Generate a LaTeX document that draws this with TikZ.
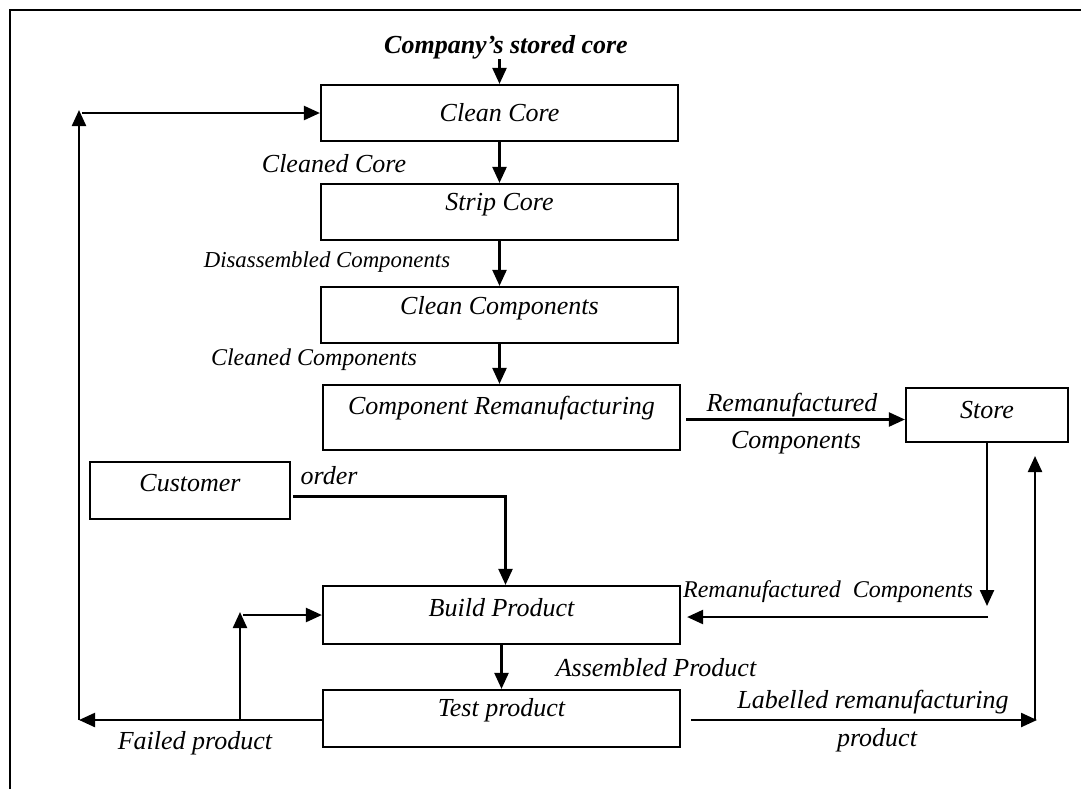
\documentclass[tikz,border=0pt]{standalone}
\usepackage{fontspec}
\setmainfont{Liberation Serif}
\usetikzlibrary{arrows.meta}
\begin{document}
\begin{tikzpicture}[x=0.5pt,y=-0.5pt,
  box/.style={draw,line width=1.1pt,inner sep=0pt},
  txt/.style={font=\itshape\fontsize{13}{15}\selectfont,inner sep=0pt},
  small/.style={font=\itshape\fontsize{12}{14}\selectfont},
  tiny/.style={font=\itshape\fontsize{11.4}{13}\selectfont},
  conn/.style={line width=1.15pt},
  arr/.style={conn,-{Triangle[length=8pt,width=7pt]}},
]
\useasboundingbox (0,0) rectangle (1081,789);

% open frame (top and left edges)
\draw[conn] (10,789) -- (10,10) -- (1081,10);

% process boxes
\node[box,minimum width=178.5pt,minimum height=28pt]   (cc)    at (499.5,113)   {};
\node[box,minimum width=178.5pt,minimum height=28pt]   (sc)    at (499.5,212)   {};
\node[box,minimum width=178.5pt,minimum height=28pt]   (ccomp) at (499.5,315)   {};
\node[box,minimum width=178.5pt,minimum height=32.5pt] (crm)   at (501.5,417.5) {};
\node[box,minimum width=81pt,minimum height=27pt]      (store) at (987,415)     {};
\node[box,minimum width=100pt,minimum height=28.5pt]   (cust)  at (190,490.5)   {};
\node[box,minimum width=178.5pt,minimum height=29pt]   (bp)    at (501.5,615)   {};
\node[box,minimum width=178.5pt,minimum height=28.5pt] (tp)    at (501.5,718.5) {};

% box captions
\node[txt] (cc-t)    at (499.5,113) {Clean Core};
\node[txt] (sc-t)    at (499.5,205) {Strip Core};
\node[txt] (ccomp-t) at (499.5,308) {Clean Components};
\node[txt] (crm-t)   at (501.5,408) {Component Remanufacturing};
\node[txt] (store-t) at (987,410)   {Store};
\node[txt] (cust-t)  at (190,483)   {Customer};
\node[txt] (bp-t)    at (501.5,608) {Build Product};
\node[txt] (tp-t)    at (501.5,710) {Test product};

% flow labels
\node[txt,font=\bfseries\itshape\fontsize{13}{15}\selectfont] (src) at (506,47) {Company’s stored core};
\node[txt]       (l-cc)    at (334,164) {Cleaned Core};
\node[txt,tiny]  (l-sc)    at (327,262) {Disassembled Components};
\node[txt,small] (l-ccomp) at (314,360) {Cleaned Components};
\node[txt]       (l-rm1)   at (792,405) {Remanufactured};
\node[txt]       (l-rm2)   at (796,443) {Components};
\node[txt]       (l-order) at (329,476) {order};
\node[txt,small] (l-rc)    at (828,592) {Remanufactured\ \ Components};
\node[txt]       (l-ap)    at (656,668) {Assembled Product};
\node[txt]       (l-fp)    at (195,743) {Failed product};
\node[txt]       (l-lr1)   at (873,702) {Labelled remanufacturing};
\node[txt]       (l-lr2)   at (877,740) {product};

% main column
\draw[arr] (src.south -| cc.north) -- (cc.north);
\draw[arr] (cc) -- (sc);
\draw[arr] (sc) -- (ccomp);
\draw[arr] (ccomp.south) -- (ccomp.south |- crm.north);
\draw[arr] (bp) -- (tp);

% remanufactured components to store
\draw[arr] ([shift={(5,2)}]crm.east) -- ([shift={(0,2)}]crm.east -| store.west);

% customer order
\draw[arr] ([shift={(2,6)}]cust.east) -| ([shift={(4,0)}]bp.north);

% store back to build
\coordinate (sd) at (987,606);
\coordinate (sh) at (988,617);
\draw[arr] (store.south) -- (sd);
\draw[arr] (sh) -- ([shift={(6,2)}]bp.east);

% labelled product into store
\coordinate (lrc) at (1035,720);
\coordinate (sup) at (1035,456);
\draw[arr] ([shift={(10,1.5)}]tp.east) -- ([shift={(2,0)}]lrc);
\draw[arr] (lrc) -- (sup);

% failed product loops
\coordinate (fl)   at (79,720);
\coordinate (ftop) at (79,110);
\coordinate (fh)   at (82,113);
\draw[arr] ([shift={(0,1.5)}]tp.west) -- (fl);
\draw[arr] (fl) -- (ftop);
\draw[arr] (fh) -- (cc.west);
\coordinate (fb)  at (240,720);
\coordinate (fbt) at (240,612);
\coordinate (fbh) at (243,615);
\draw[arr] (fb) -- (fbt);
\draw[arr] (fbh) -- (bp.west);
\end{tikzpicture}
\end{document}
